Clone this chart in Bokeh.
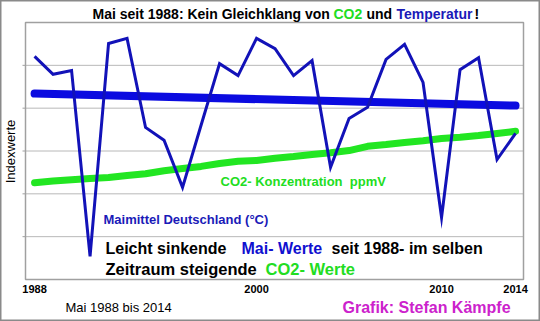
from bokeh.plotting import figure
from bokeh.models import Label, Range1d
from bokeh.embed import file_html
from bokeh.resources import INLINE

# ---- data (index values) ----
years = list(range(1988, 2015))
temp_index = [5.21, 4.79, 4.88, 0.54, 5.51, 5.63, 3.55, 3.25, 2.15, 3.60,
              5.04, 4.76, 5.63, 5.39, 4.76, 5.11, 2.62, 3.76, 4.02, 5.14,
              5.49, 4.60, 1.45, 4.90, 5.18, 2.80, 3.41]
co2_index = [2.26, 2.30, 2.33, 2.36, 2.38, 2.43, 2.47, 2.54, 2.59, 2.64,
             2.71, 2.76, 2.78, 2.83, 2.87, 2.92, 2.96, 3.01, 3.11, 3.15,
             3.20, 3.24, 3.29, 3.32, 3.36, 3.41, 3.46]
trend_years = [1988, 2014]
trend_index = [4.34, 4.06]
x_ticks = [1988, 2000, 2010, 2014]
x_tick_labels = ["1988", "2000", "2010", "2014"]
y_grid = [1, 2, 3, 4, 5]

FONT = "Liberation Sans"
W, H = 540, 321
# plot box (value space) and where it sits on the page (pixels)
BX0, BX1 = 1987.51, 2014.43
BY0, BY1 = 0.0, 6.0
FL, FR, FT, FB = 25, 523, 22, 279
KX = (FR - FL) / (BX1 - BX0)
KY = (FB - FT) / (BY1 - BY0)


def dx(X):
    return BX0 + (X - FL) / KX


def dy(Y):
    return BY0 + (FB - Y) / KY


p = figure(width=W, height=H, output_backend="svg", toolbar_location=None,
           x_range=Range1d(dx(0), dx(W)), y_range=Range1d(dy(H), dy(0)),
           min_border=0)
p.xaxis.visible = False
p.yaxis.visible = False
p.grid.visible = False
p.background_fill_color = "white"
p.border_fill_color = "white"
p.outline_line_color = "#8a8a8a"
p.outline_line_width = 2

# grid lines and plot box
p.segment(x0=[BX0] * len(y_grid), x1=[BX1] * len(y_grid), y0=y_grid, y1=y_grid,
          line_color="#b8b8b8", line_width=1)
p.segment(x0=[dx(FL - 3)] * len(y_grid), x1=[BX0] * len(y_grid), y0=y_grid, y1=y_grid,
          line_color="#a0a0a0", line_width=1)
p.quad(left=[BX0], right=[BX1], bottom=[BY0], top=[BY1],
       fill_color=None, line_color="#a0a0a0", line_width=1.5)

# lines
p.line(years, co2_index, line_color="#22e622", line_width=7, line_cap="round", line_join="round")
p.line(trend_years, trend_index, line_color="#0b0be0", line_width=8, line_cap="round")
p.line(years, temp_index, line_color="#1212b8", line_width=3, line_join="miter")


def lab(X, Y, text, color="black", size=13, bold=True, align="left", angle=0.0, xd=None):
    p.add_layout(Label(x=dx(X) if xd is None else xd, y=dy(Y),
                       text=text, text_color=color,
                       text_font=FONT, text_font_size=f"{size}px",
                       text_font_style="bold" if bold else "normal",
                       text_align=align, text_baseline="middle", angle=angle))


# x tick labels
for t, s in zip(x_ticks, x_tick_labels):
    lab(0, 288, s, size=11, align="center", xd=t)

BLUE_T = "#1a1ab8"
GREEN_T = "#22dd22"
NB = "\u00a0"

# title
lab(92, 13, "Mai seit 1988: Kein Gleichklang von", size=14)
lab(333, 13, "CO2", GREEN_T, size=14)
lab(366, 13, "und", size=14)
lab(396, 13, "Temperatur", BLUE_T, size=14)
lab(474, 13, "!", size=14)

# y label
lab(10, 151, "Indexwerte", size=13, bold=False, align="center", angle=1.5708)

# annotations
lab(220, 181, "CO2- Konzentration" + NB + NB + "ppmV", GREEN_T, size=13)
lab(103, 219, "Maimittel Deutschland (°C)", BLUE_T, size=13)
lab(105, 248, "Leicht sinkende", size=16)
lab(241, 248, "Mai- Werte", "#1010d0", size=16)
lab(331, 248, "seit 1988- im selben", size=16)
lab(105, 268, "Zeitraum steigende", size=16.5)
lab(265, 268, "CO2- Werte", GREEN_T, size=16.5)

# footer
lab(65, 307, "Mai 1988 bis 2014", size=13, bold=False)
lab(342, 307, "Grafik: Stefan Kämpfe", "#cc22cc", size=16)

open("out.html", "w").write(file_html(p, INLINE))
